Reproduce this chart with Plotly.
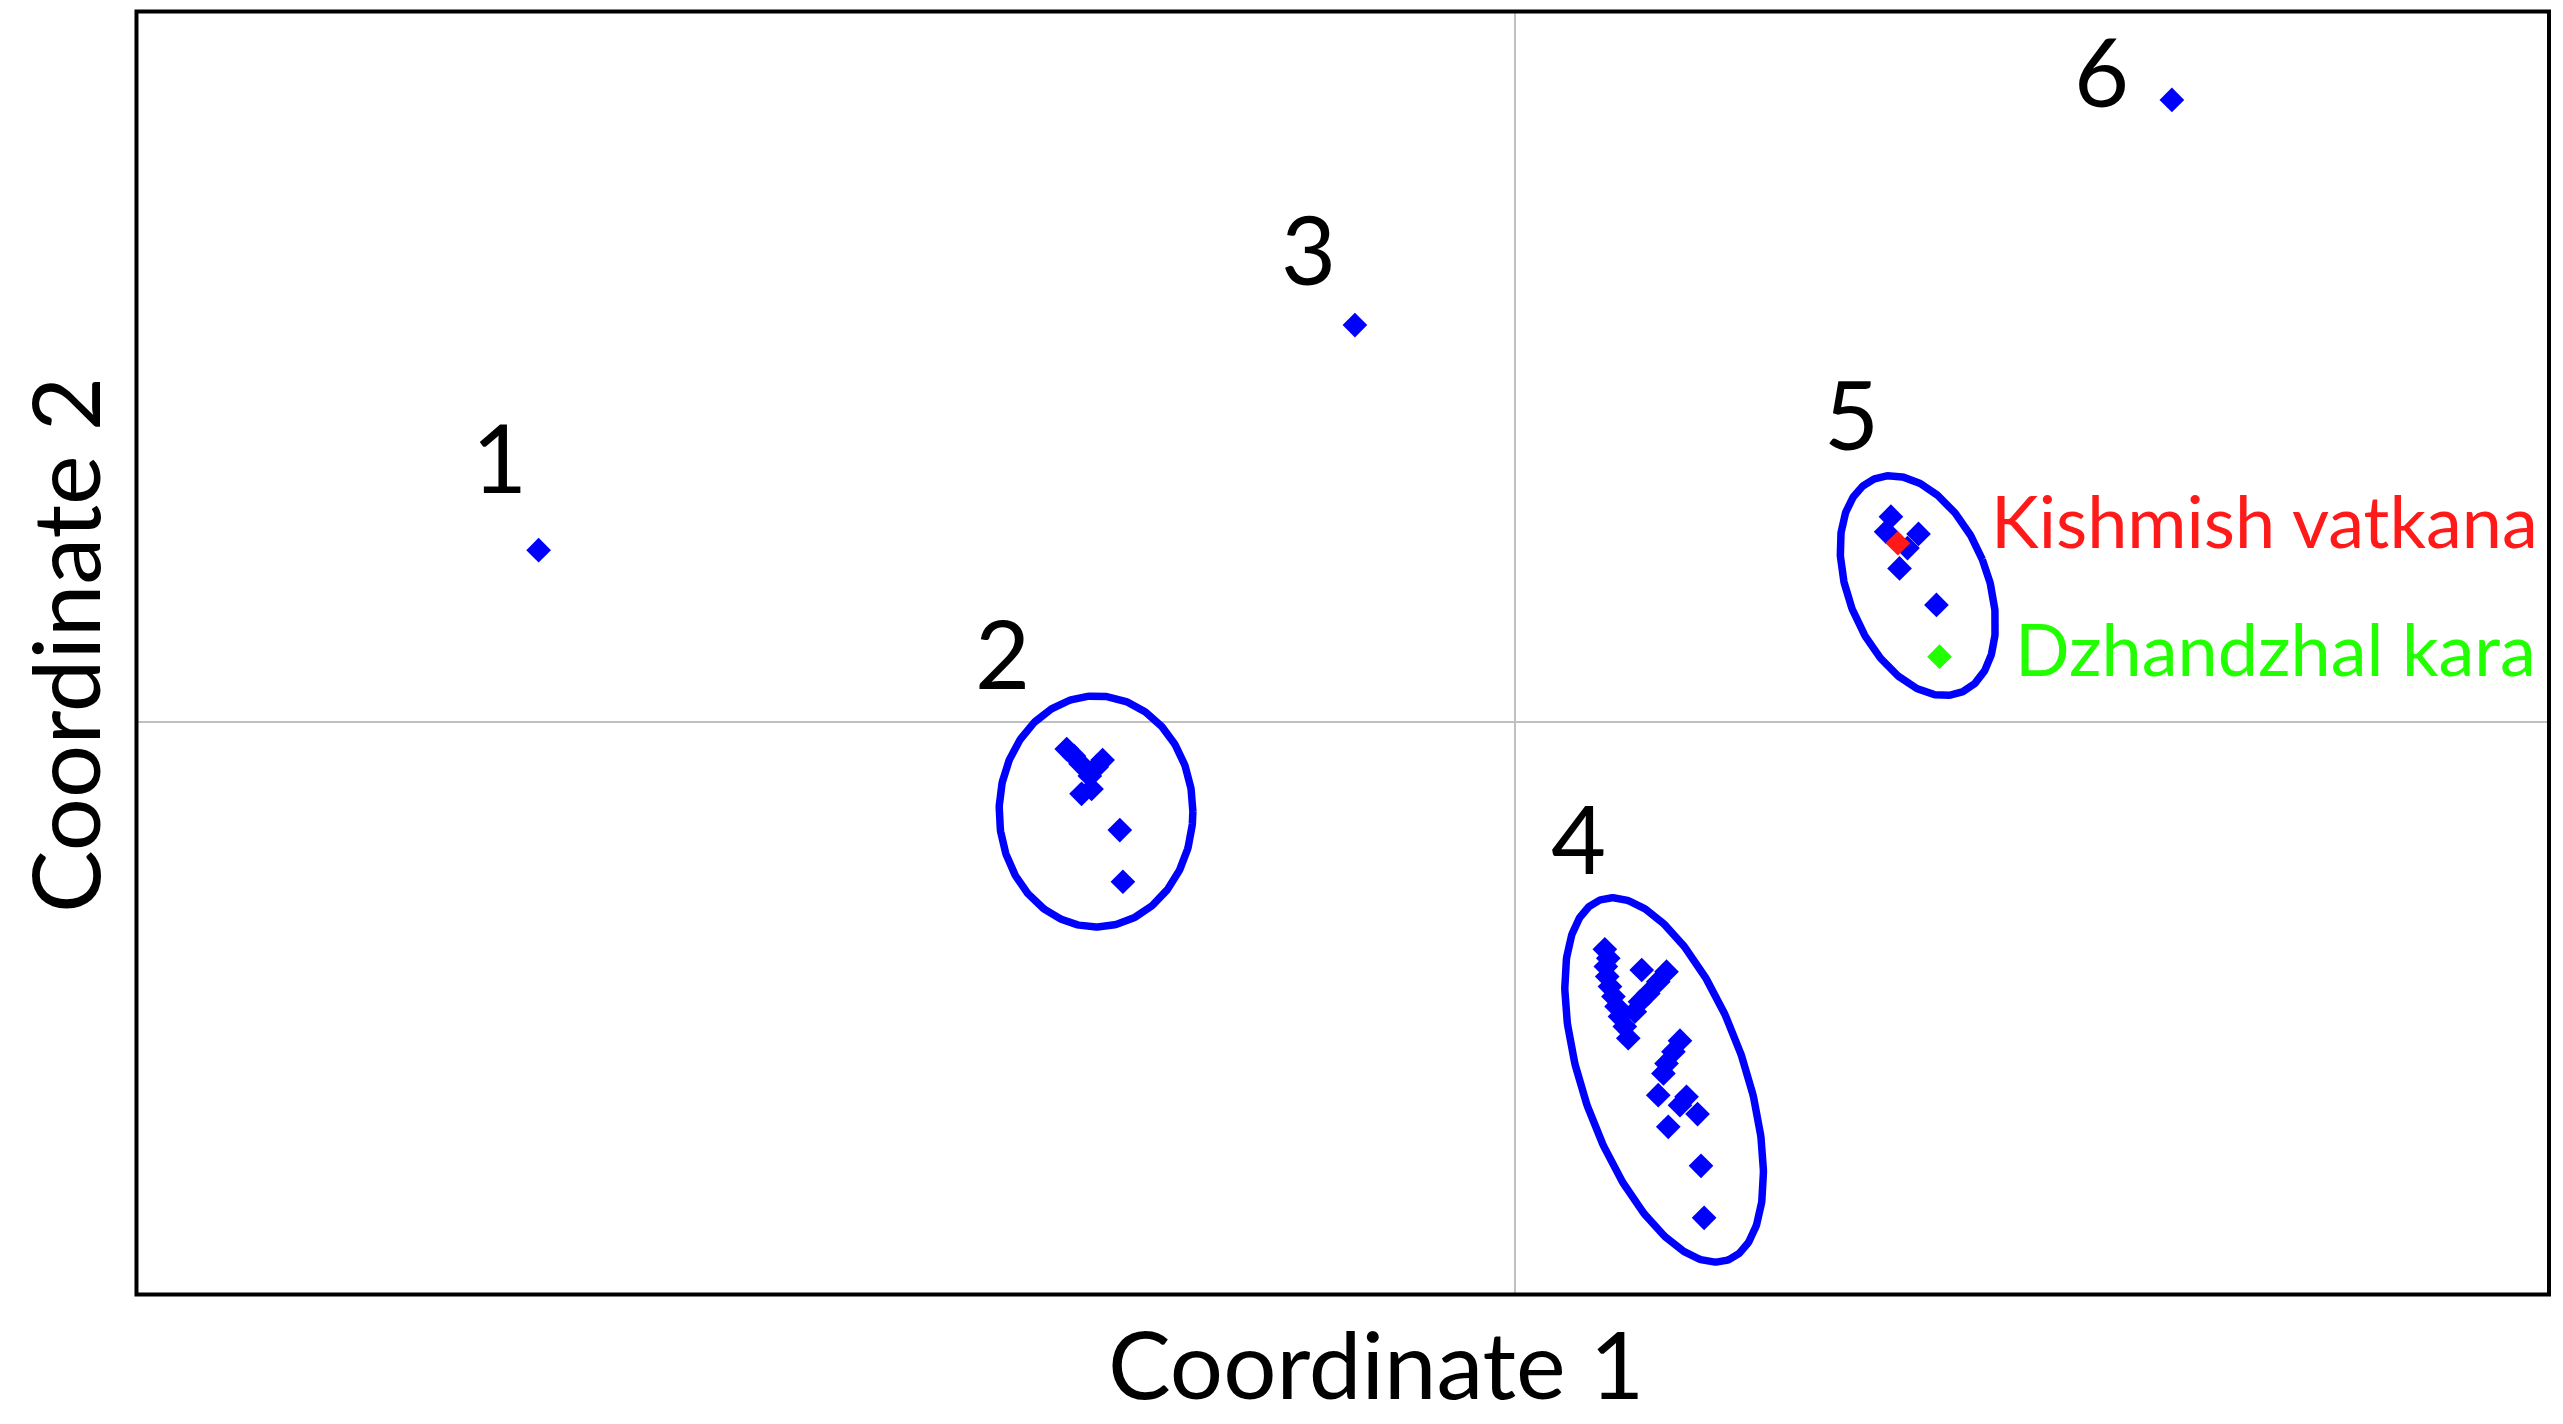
import numpy as np
import plotly.graph_objects as go

# ---- data (MDS coordinates, arbitrary units) ----
single_x = [-0.2832, -0.0464, 0.1906]
single_y = [0.0498, 0.1151, 0.1804]

c2_x = [-0.1300, -0.1279, -0.1260, -0.1196, -0.1213, -0.1233, -0.1257, -0.1228, -0.1146, -0.1137]
c2_y = [-0.0079, -0.0099, -0.0122, -0.0111, -0.0131, -0.0157, -0.0209, -0.0195, -0.0314, -0.0464]

c4_x = [0.0261, 0.0271, 0.0264, 0.0268, 0.0276, 0.0286, 0.0295, 0.0305, 0.0319, 0.0329,
        0.0368, 0.0440, 0.0416, 0.0387, 0.0363, 0.0348, 0.0479, 0.0460, 0.0440, 0.0431,
        0.0416, 0.0498, 0.0479, 0.0530, 0.0445, 0.0540, 0.0549]
c4_y = [-0.0660, -0.0686, -0.0710, -0.0739, -0.0768, -0.0797, -0.0826, -0.0855, -0.0884, -0.0918,
        -0.0720, -0.0725, -0.0754, -0.0788, -0.0812, -0.0841, -0.0925, -0.0957, -0.0991, -0.1020,
        -0.1083, -0.1088, -0.1112, -0.1138, -0.1175, -0.1288, -0.1439]

c5_x = [0.1091, 0.1077, 0.1171, 0.1139, 0.1116, 0.1223]
c5_y = [0.0595, 0.0551, 0.0545, 0.0504, 0.0445, 0.0339]

kish_x = [0.1111]
kish_y = [0.0518]
dzh_x = [0.1232]
dzh_y = [0.0189]

# ellipse parameters: center x, center y, semi-major, semi-minor, tilt (deg from vertical)
ell_cx = [-0.1215, 0.0433, 0.1169]
ell_cy = [-0.0260, -0.1039, 0.0395]
ell_a = [0.0335, 0.0554, 0.0334]
ell_b = [0.0281, 0.0235, 0.0202]
ell_tilt = [0.0, 19.4, 22.0]

group_labels = ["1", "2", "3", "4", "5", "6"]
group_label_x = [-0.2945, -0.1485, -0.0600, 0.0185, 0.0978, 0.1703]
group_label_y = [0.0772, 0.0203, 0.1375, -0.0334, 0.0896, 0.1891]

cultivar_names = ["Kishmish vatkana", "Dzhandzhal kara"]
cultivar_label_x = [0.1375, 0.1445]
cultivar_label_y = [0.0586, 0.0213]

BLUE = "#0000FF"
RED = "#FF1A1A"
GREEN = "#22FF00"
FONT = "Lato"

fig = go.Figure()

# ellipses
t = np.linspace(0, 2 * np.pi, 361)
for cx, cy, a, b, tilt in zip(ell_cx, ell_cy, ell_a, ell_b, ell_tilt):
    phi = np.deg2rad(tilt)
    u = b * np.cos(t)
    v = a * np.sin(t)
    ex = cx + u * np.cos(phi) - v * np.sin(phi)
    ey = cy + u * np.sin(phi) + v * np.cos(phi)
    fig.add_trace(go.Scatter(x=ex, y=ey, mode="lines",
                             line=dict(color=BLUE, width=7.5), hoverinfo="skip"))

marker = dict(symbol="diamond", size=19, color=BLUE, line=dict(width=0))
for xs, ys in [(single_x, single_y), (c2_x, c2_y), (c4_x, c4_y), (c5_x, c5_y)]:
    fig.add_trace(go.Scatter(x=xs, y=ys, mode="markers", marker=marker))

fig.add_trace(go.Scatter(x=kish_x, y=kish_y, mode="markers",
                         marker=dict(symbol="diamond", size=19, color=RED)))
fig.add_trace(go.Scatter(x=dzh_x, y=dzh_y, mode="markers",
                         marker=dict(symbol="diamond", size=19, color=GREEN)))

annotations = []
for txt, x, y in zip(group_labels, group_label_x, group_label_y):
    annotations.append(dict(x=x, y=y, xref="x", yref="y", text=txt, showarrow=False,
                            xanchor="center", yanchor="middle",
                            font=dict(family=FONT, size=95, color="black")))
for txt, x, y, col in zip(cultivar_names, cultivar_label_x, cultivar_label_y, [RED, GREEN]):
    annotations.append(dict(x=x, y=y, xref="x", yref="y", text=txt, showarrow=False,
                            xanchor="left", yanchor="middle",
                            font=dict(family=FONT, size=72, color=col)))

annotations.append(dict(x=0.5140, y=-0.0546, xref="paper", yref="paper", text="Coordinate 1",
                        showarrow=False, xanchor="center", yanchor="middle",
                        font=dict(family=FONT, size=94, color="black")))
annotations.append(dict(x=-0.0298, y=0.5055, xref="paper", yref="paper", text="Coordinate 2",
                        showarrow=False, xanchor="center", yanchor="middle", textangle=-90,
                        font=dict(family=FONT, size=94, color="black")))

axis_common = dict(showgrid=False, showticklabels=False, ticks="", zeroline=True,
                   zerolinecolor="#C0C0C0", zerolinewidth=1.5, showline=False)

fig.update_layout(
    width=2563, height=1424,
    margin=dict(l=128, r=22, t=3, b=139),
    paper_bgcolor="white", plot_bgcolor="white",
    showlegend=False,
    xaxis=dict(range=[-0.4, 0.3], **axis_common),
    yaxis=dict(range=[-0.1657, 0.2062], **axis_common),
    annotations=annotations,
    shapes=[dict(type="rect", xref="paper", yref="paper", x0=0.0002, x1=1.0, y0=-0.0012, y1=0.9996,
                 line=dict(color="black", width=4), fillcolor="rgba(0,0,0,0)", layer="above")],
)

fig.write_html("out.html")
